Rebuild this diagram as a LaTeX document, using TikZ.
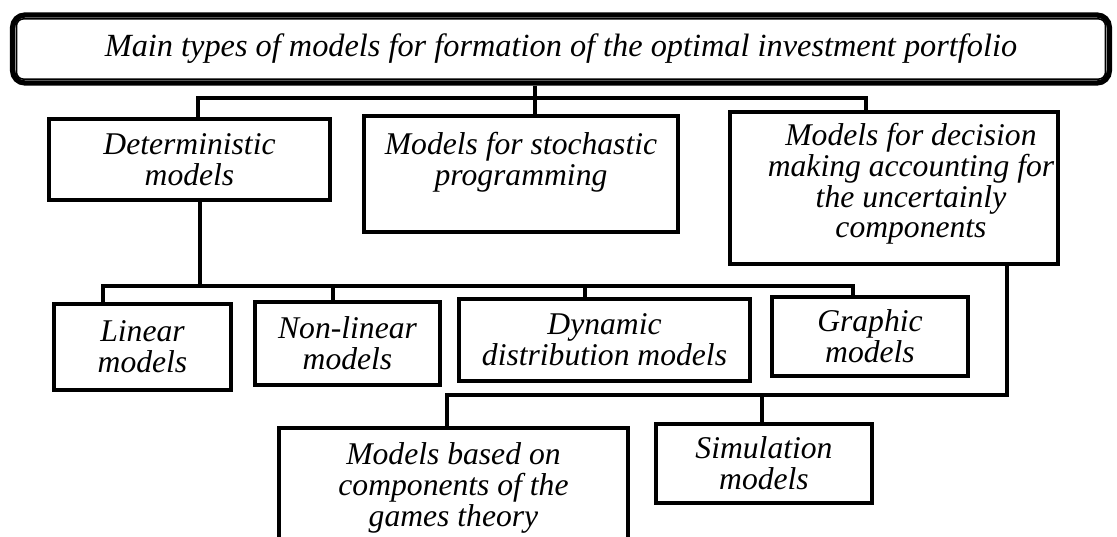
\documentclass[tikz,border=0pt]{standalone}
\usepackage{fontspec}
\setmainfont{Liberation Serif}
\usepackage{tikz}

\begin{document}
\begin{tikzpicture}[x=0.02cm, y=-0.02cm,
  box/.style={draw=black, line width=2.2pt, fill=white, inner sep=2pt, align=center, font=\fontsize{18pt}{17.5pt}\selectfont\itshape},
  link/.style={draw=black, line width=2.2pt}]
  \useasboundingbox (0,0) rectangle (1117,537);
  \clip (0,0) rectangle (1117,537);
  \fill[white] (0,0) rectangle (1117,537);

  \node[box, line width=3pt, rounded corners=7pt, minimum width=21.94cm, minimum height=1.36cm, font=\fontsize{18.4pt}{17.5pt}\selectfont\itshape] (title) at (561,49) {Main types of models for formation of the optimal investment portfolio};
  \draw[line width=0.9pt, rounded corners=4pt] ([shift={(6.5,6.5)}]title.north west) rectangle ([shift={(-6.5,-6.5)}]title.south east);

  \node[box, minimum width=5.62cm, minimum height=1.62cm] (det) at (189.5,159.5) {Deterministic\\models};
  \node[box, minimum width=6.28cm, minimum height=2.32cm] (stoch) at (521,174) {Models for stochastic\\programming\\\mbox{}};
  \node[box, minimum width=6.56cm, minimum height=3.04cm,
    label={[align=center, xshift=0.34cm, yshift=0.08cm, font=\fontsize{18pt}{17.5pt}\selectfont\itshape]center:Models for decision\\making accounting for\\the uncertainly\\components}] (decision) at (894,188) {};

  \node[box, minimum width=3.54cm, minimum height=1.72cm] (lin) at (142.5,347) {Linear\\models};
  \node[box, minimum width=3.7cm, minimum height=1.66cm] (nonlin) at (347.5,343.5) {Non-linear\\models};
  \node[box, minimum width=5.82cm, minimum height=1.64cm] (dyn) at (604.5,340) {Dynamic\\distribution models};
  \node[box, minimum width=3.92cm, minimum height=1.58cm] (graph) at (870,336.5) {Graphic\\models};

  \node[box, minimum width=6.98cm, minimum height=2.4cm] (games) at (453.5,488) {Models based on\\components of the\\games theory};
  \node[box, minimum width=4.32cm, minimum height=1.58cm] (sim) at (764,463.5) {Simulation\\models};

  \coordinate (j0) at (535,98);
  \coordinate (j1) at (198,98);
  \coordinate (j2) at (866,98);
  \draw[link] (j0 |- title.south) -- (j0 |- stoch.north);
  \draw[link] (j1 |- det.north) -- (j1) -- (j2) -- (j2 |- decision.north);

  \coordinate (k0) at (200,286);
  \coordinate (k1) at (103,286);
  \coordinate (k2) at (333,286);
  \coordinate (k3) at (585,286);
  \coordinate (k4) at (853,286);
  \draw[link] (k0 |- det.south) -- (k0);
  \draw[link] (k1 |- lin.north) -- (k1) -- (k4) -- (k4 |- graph.north);
  \draw[link] (k2) -- (k2 |- nonlin.north);
  \draw[link] (k3) -- (k3 |- dyn.north);

  \coordinate (m1) at (447,395);
  \coordinate (m2) at (762,395);
  \coordinate (m3) at (1007,395);
  \draw[link] (m3 |- decision.south) -- (m3) -- (m1) -- (m1 |- games.north);
  \draw[link] (m2) -- (m2 |- sim.north);
\end{tikzpicture}
\end{document}
